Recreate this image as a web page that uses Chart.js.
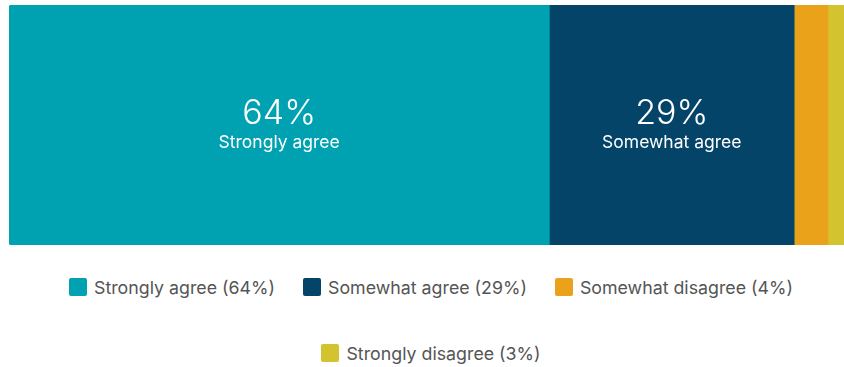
<!DOCTYPE html>
<html>
<head>
<meta charset="utf-8">
<script src="https://cdn.jsdelivr.net/npm/chart.js@4/dist/chart.umd.min.js"></script>
<style>
  body { margin: 0; background: #fff; font-family: Inter, Roboto, sans-serif; }
  #wrap { width: 844px; height: 367px; position: relative; overflow: hidden; }
  #box { width: 844px; height: 250px; position: relative; }
  #legend {
    display: flex; flex-wrap: wrap; justify-content: center;
    column-gap: 28px; row-gap: 46px;
    margin-top: 27px; padding-left: 18px; box-sizing: border-box; width: 844px;
  }
  .item { display: flex; align-items: center; height: 20px; font-size: 17.8px; color: #555; white-space: nowrap; }
  .swatch { width: 18px; height: 18px; border-radius: 2px; margin-right: 7px; }
</style>
</head>
<body>
<div id="wrap">
  <div id="box"><canvas id="bar-chart"></canvas></div>
  <div id="legend"></div>
</div>
<script>
// answer share, in percent
var answers = ['Strongly agree', 'Somewhat agree', 'Somewhat disagree', 'Strongly disagree'];
var shares = [64, 29, 4, 3];
var colours = ['#00A1B0', '#034468', '#E9A21A', '#D2C32F'];

// text in the middle of the big segments
var segmentLabels = {
  id: 'segmentLabels',
  afterDatasetsDraw: function (chart) {
    var ctx = chart.ctx;
    ctx.save();
    ctx.fillStyle = '#fff';
    ctx.textAlign = 'center';
    ctx.textBaseline = 'middle';
    chart.data.datasets.forEach(function (ds, i) {
      if (ds.data[0] < 10) return;
      var bar = chart.getDatasetMeta(i).data[0];
      var cx = (bar.base + bar.x) / 2;
      ctx.font = '300 34px Inter';
      ctx.fillText(ds.data[0] + '%', cx, bar.y - 11);
      ctx.font = '17.5px Inter';
      ctx.fillText(ds.label, cx, bar.y + 18);
    });
    ctx.restore();
  }
};

var ctx1 = document.getElementById('bar-chart').getContext('2d');
new Chart(ctx1, {
  type: 'bar',
  data: {
    labels: [''],
    datasets: answers.map(function (a, i) {
      return {
        label: a,
        data: [shares[i]],
        backgroundColor: colours[i],
        borderWidth: 0,
        borderSkipped: i === 0 ? false : 'start',
        borderRadius: i === 0 ? { topLeft: 3, bottomLeft: 3, topRight: 0, bottomRight: 0 } : 0,
        barPercentage: 1,
        categoryPercentage: 1
      };
    })
  },
  options: {
    indexAxis: 'y',
    responsive: true,
    maintainAspectRatio: false,
    animation: false,
    layout: { padding: { left: 9, top: 5, bottom: 5, right: 0 } },
    scales: {
      x: { stacked: true, display: false, min: 0, max: 98.9 },
      y: { stacked: true, display: false }
    },
    plugins: {
      legend: { display: false },
      tooltip: { enabled: false }
    }
  },
  plugins: [segmentLabels]
});

// legend under the bar
var legend = document.getElementById('legend');
answers.forEach(function (a, i) {
  var item = document.createElement('div');
  item.className = 'item';
  item.innerHTML = '<span class="swatch" style="background:' + colours[i] + '"></span>' + a + ' (' + shares[i] + '%)';
  legend.appendChild(item);
});
</script>
</body>
</html>
